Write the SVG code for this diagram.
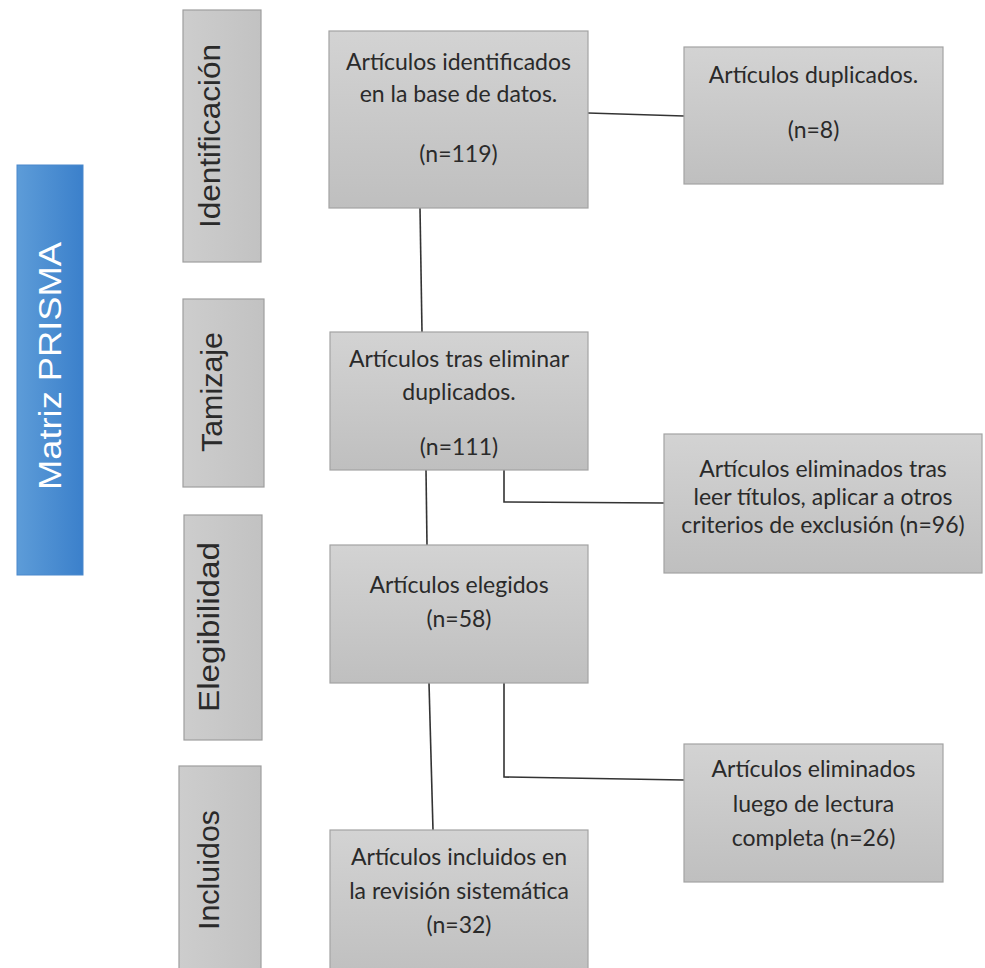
<svg xmlns="http://www.w3.org/2000/svg" width="985" height="968" viewBox="0 0 985 968">
<defs>
<linearGradient id="gBox" x1="0" y1="0" x2="0" y2="1">
<stop offset="0" stop-color="#d3d3d3"/>
<stop offset="1" stop-color="#bfbfbf"/>
</linearGradient>
<linearGradient id="gLab" x1="0" y1="0" x2="1" y2="0">
<stop offset="0" stop-color="#cdcdcd"/>
<stop offset="1" stop-color="#c2c2c2"/>
</linearGradient>
<linearGradient id="gBlue" x1="0" y1="0" x2="1" y2="0">
<stop offset="0" stop-color="#5d9cd8"/>
<stop offset="1" stop-color="#3b80cb"/>
</linearGradient>
</defs>
<style>
.box{fill:url(#gBox);stroke:#a3a3a3;stroke-width:1.2}
.lab{fill:url(#gLab);stroke:#9e9e9e;stroke-width:1.2}
.t{font-family:Lato,"Open Sans",sans-serif;font-size:23px;fill:#2a2a2a;text-anchor:middle}
.lt{font-family:"Liberation Sans",Arial,sans-serif;font-size:29px;fill:#2a2a2a;text-anchor:middle}
.conn{fill:none;stroke:#333;stroke-width:1.6}
</style>
<rect width="985" height="968" fill="#fff"/>

<g id="matriz">
<rect x="17" y="165" width="66" height="410" fill="url(#gBlue)" stroke="#4a88cc" stroke-width="1"/>
<text transform="translate(61,366) rotate(-90)" font-family="Liberation Sans, Arial, sans-serif" font-size="31" fill="#fff" text-anchor="middle" textLength="248" lengthAdjust="spacingAndGlyphs">Matriz PRISMA</text>
</g>

<g id="lab-identificacion">
<rect class="lab" x="183" y="10" width="78" height="252"/>
<text class="lt" transform="translate(220,136) rotate(-90)" textLength="184" lengthAdjust="spacingAndGlyphs">Identificación</text>
</g>
<g id="lab-tamizaje">
<rect class="lab" x="183" y="299" width="81" height="188"/>
<text class="lt" transform="translate(222,392) rotate(-90)" textLength="120" lengthAdjust="spacingAndGlyphs">Tamizaje</text>
</g>
<g id="lab-elegibilidad">
<rect class="lab" x="184" y="515" width="78" height="225"/>
<text class="lt" transform="translate(219,627) rotate(-90)" textLength="170" lengthAdjust="spacingAndGlyphs">Elegibilidad</text>
</g>
<g id="lab-incluidos">
<rect class="lab" x="179" y="766" width="82" height="212"/>
<text class="lt" transform="translate(219,870) rotate(-90)" textLength="120" lengthAdjust="spacingAndGlyphs">Incluidos</text>
</g>

<g id="connectors">
<path class="conn" d="M588,113 L684,116"/>
<path class="conn" d="M420,208 L422,332"/>
<path class="conn" d="M426,470 L427,545"/>
<path class="conn" d="M504,470 L504,502 L664,503"/>
<path class="conn" d="M429,683 L433,830"/>
<path class="conn" d="M504,683 L504,777 L684,780"/>
</g>

<g id="n-identificados">
<rect class="box" x="329" y="31" width="259" height="177"/>
<text class="t" x="458.5" y="70">Artículos identificados</text>
<text class="t" x="458.5" y="102">en la base de datos.</text>
<text class="t" x="458.5" y="162">(n=119)</text>
</g>
<g id="n-duplicados">
<rect class="box" x="684" y="47" width="259" height="137"/>
<text class="t" x="813.5" y="83">Artículos duplicados.</text>
<text class="t" x="813.5" y="138">(n=8)</text>
</g>
<g id="n-tras">
<rect class="box" x="330" y="332" width="258" height="138"/>
<text class="t" x="459" y="367">Artículos tras eliminar</text>
<text class="t" x="459" y="400">duplicados.</text>
<text class="t" x="459" y="455">(n=111)</text>
</g>
<g id="n-eliminados1">
<rect class="box" x="664" y="434" width="318" height="139"/>
<text class="t" x="823" y="477">Artículos eliminados tras</text>
<text class="t" x="823" y="505">leer títulos, aplicar a otros</text>
<text class="t" x="823" y="533">criterios de exclusión (n=96)</text>
</g>
<g id="n-elegidos">
<rect class="box" x="330" y="545" width="258" height="138"/>
<text class="t" x="459" y="593">Artículos elegidos</text>
<text class="t" x="459" y="627">(n=58)</text>
</g>
<g id="n-eliminados2">
<rect class="box" x="684" y="744" width="259" height="138"/>
<text class="t" x="813.5" y="777">Artículos eliminados</text>
<text class="t" x="813.5" y="812">luego de lectura</text>
<text class="t" x="813.5" y="846">completa (n=26)</text>
</g>
<g id="n-incluidos">
<rect class="box" x="330" y="830" width="258" height="148"/>
<text class="t" x="459" y="865">Artículos incluidos en</text>
<text class="t" x="459" y="899">la revisión sistemática</text>
<text class="t" x="459" y="933">(n=32)</text>
</g>
</svg>
